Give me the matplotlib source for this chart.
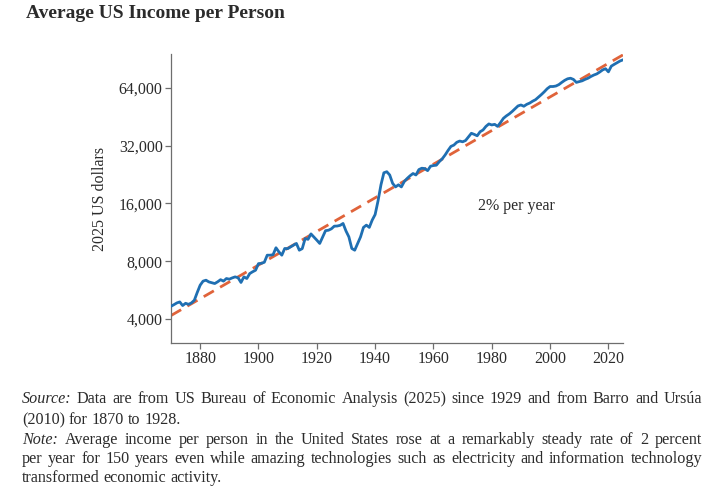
import numpy as np
import matplotlib
matplotlib.use("Agg")
import matplotlib.pyplot as plt
from matplotlib.ticker import FixedLocator, NullLocator

# average income per person, 2025 US dollars
years = list(range(1870, 2026))
income = [
    4660, 4750, 4850, 4910, 4700, 4830, 4770, 4850, 5010, 5500,   # 1870s
    6000, 6300, 6370, 6240, 6180, 6120, 6250, 6410, 6300, 6500,   # 1880s
    6450, 6550, 6630, 6560, 6200, 6630, 6500, 6900, 7050, 7180,   # 1890s
    7770, 7800, 7900, 8600, 8600, 8650, 9400, 8950, 8600, 9320,   # 1900s
    9300, 9500, 9700, 9900, 9130, 9300, 10500, 10400, 11100, 10700,  # 1910s
    10300, 9900, 10700, 11540, 11600, 11800, 12180, 12200, 12300, 12580,  # 1920s
    11500, 10710, 9320, 9130, 9900, 10710, 12000, 12330, 12000, 13100,  # 1930s
    14000, 16500, 20000, 23100, 23400, 22500, 20350, 19500, 20000, 19500,  # 1940s
    20800, 21600, 22300, 22900, 22500, 24000, 24400, 24300, 23700, 25000,  # 1950s
    25200, 25300, 26400, 27300, 28600, 30200, 31700, 32200, 33300, 33800,  # 1960s
    33500, 34000, 35500, 37100, 36600, 36000, 37800, 38600, 40300, 41500,  # 1970s
    41000, 41300, 40300, 42200, 44400, 45700, 46800, 48200, 49800, 51500,  # 1980s
    52100, 51300, 52500, 53300, 54500, 55500, 57200, 59000, 61000, 63300,  # 1990s
    65000, 65000, 65400, 66500, 68300, 70000, 71300, 71800, 70800, 68300,  # 2000s
    68900, 69600, 70800, 71800, 73300, 74600, 75600, 77300, 79300, 80500,  # 2010s
    77500, 83000, 84800, 86500, 88300, 89500,                            # 2020s
]

# 2% per year reference line (end points)
trend_years = [1870, 2025]
trend_values = [4170, 95000]

yticks = [4000, 8000, 16000, 32000, 64000]
xticks = [1880, 1900, 1920, 1940, 1960, 1980, 2000, 2020]

title = "Average US Income per Person"
ylabel = "2025 US dollars"
note_label = "2% per year"
caption = [
    ([("Source:", "italic"), ("Data are from US Bureau of Economic Analysis (2025) since 1929 and from Barro and Ursúa", "normal")], True),
    ([("(2010) for 1870 to 1928.", "normal")], False),
    ([("Note:", "italic"), ("Average income per person in the United States rose at a remarkably steady rate of 2 percent", "normal")], True),
    ([("per year for 150 years even while amazing technologies such as electricity and information technology", "normal")], True),
    ([("transformed economic activity.", "normal")], False),
]

SERIF = ["Liberation Serif", "DejaVu Serif"]
TEXT = "#2b2b2b"
GRAY = "#6e6e6e"

plt.rcParams["font.family"] = SERIF

W, H = 714, 486
fig = plt.figure(figsize=(W / 100, H / 100), dpi=100)
ax = fig.add_axes([171 / W, 1 - 343 / H, (623 - 171) / W, (343 - 54) / H])

ax.plot(years, income, color="#1f6fb2", lw=2.0, solid_joinstyle="round", zorder=3)
ax.plot(trend_years, trend_values, color="#e0633a", lw=2.0, dashes=(4.2, 2.6), zorder=2)

ax.set_yscale("log")
ax.set_xlim(1870, 2025)
ax.set_ylim(3000, 96000)
ax.yaxis.set_major_locator(FixedLocator(yticks))
ax.yaxis.set_minor_locator(NullLocator())
ax.set_yticklabels([f"{v:,}" for v in yticks])
ax.set_xticks(xticks)
ax.set_xticklabels([str(v) for v in xticks])

for s in ["top", "right"]:
    ax.spines[s].set_visible(False)
for s in ["left", "bottom"]:
    ax.spines[s].set_color(GRAY)
    ax.spines[s].set_linewidth(0.9)
ax.tick_params(axis="both", length=4, width=0.9, color=GRAY, labelcolor=TEXT,
               pad=2, labelsize=11.5)

ax.set_ylabel(ylabel, fontsize=11.5, color=TEXT, labelpad=8)
ax.text(1988.3, 15500, note_label, fontsize=11.5, color=TEXT,
        ha="center", va="center")

fig.text(26 / W, 1 - 13 / H, title, fontsize=14, weight="bold",
         color=TEXT, ha="left", va="center")

# caption, justified word by word
renderer = fig.canvas.get_renderer()
x0, x1 = 22, 702
line_y = [399, 420, 440, 459, 478]
size = 11.6
space = size * 100 / 72 * 0.25
for (segments, justify), yy in zip(caption, line_y):
    words = []
    for txt, style in segments:
        for w in txt.split():
            words.append((w, style))
    arts = []
    for w, style in words:
        arts.append(fig.text(0, 1 - yy / H, w, fontsize=size,
                             style=style, color=TEXT, ha="left", va="center"))
    widths = [a.get_window_extent(renderer).width for a in arts]
    if justify and len(arts) > 1:
        gap = (x1 - x0 - sum(widths)) / (len(arts) - 1)
    else:
        gap = space
    x = x0
    for a, wd in zip(arts, widths):
        a.set_x(x / W)
        x += wd + gap

fig.savefig("out.png", dpi=100)
